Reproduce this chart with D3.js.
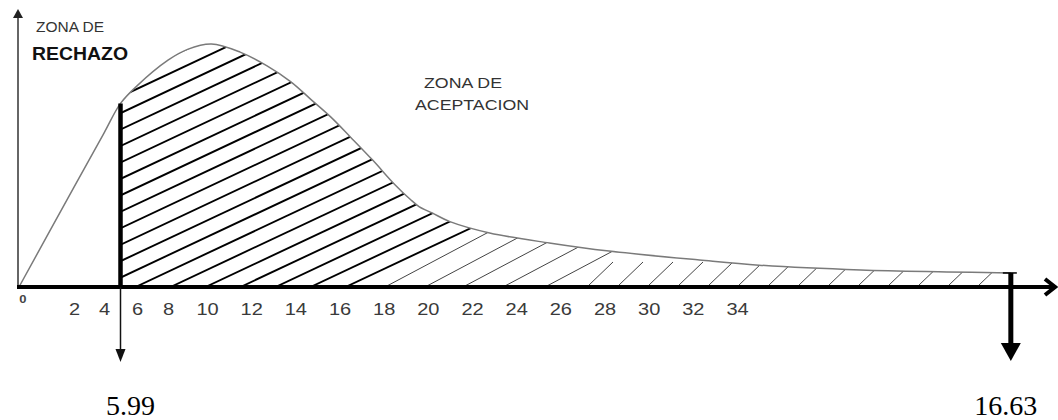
<!DOCTYPE html>
<html lang="es">
<head>
<meta charset="UTF-8">
<title>Zona de rechazo / aceptacion</title>
<script src="https://d3js.org/d3.v7.min.js"></script>
<style>
  body { margin: 0; background: #fff; }
  svg { display: block; }
  text { font-family: "Liberation Sans", Arial, sans-serif; }
  .serif { font-family: "Liberation Serif", "Times New Roman", serif; }
</style>
</head>
<body>
<svg id="chart" width="1058" height="420"></svg>
<script>
// tick labels along the axis
const xTicks = [0, 2, 4, 6, 8, 10, 12, 14, 16, 18, 20, 22, 24, 26, 28, 30, 32, 34];

// curve (axis units, relative height 0-100)
const curveX = [0, 2, 4, 5, 6, 8, 9, 10.2, 11.5, 12.7, 13.8, 14.7, 15.6, 16.5, 17.5,
                18.5, 19.2, 19.6, 20.2, 21, 22.8, 25.5, 28.2, 32.3, 35, 39.6, 43.5, 46.4];
const curveY = [0, 37, 57, 68, 74.5, 84, 88, 90, 87, 82, 76, 69.5, 63, 55.5, 47,
                38, 32.5, 29.8, 27.4, 24.2, 20, 16.3, 13.3, 10, 8.1, 6.3, 5.6, 5.2];

// critical values: where they sit on the drawing and what they are labelled
const critPos = [5, 46.4];
const critLabels = ["5.99", "16.63"];

const svg = d3.select("#chart");

// hand drawn axis: first units are squeezed
const x = d3.scaleLinear()
  .domain([0, 2, 4, 6, 8, 10, 34])
  .range([19, 74, 104, 137, 168, 207, 737]);
const y = d3.scaleLinear().domain([0, 100]).range([287, 17]);

const pts = curveX.map((d, i) => [d, curveY[i]]);
const y0 = y(0);
const curve = d3.curveCatmullRom.alpha(0.5);

function stretch(sel, k) {
  sel.each(function () {
    const w = this.getComputedTextLength();
    d3.select(this).attr("textLength", w * k).attr("lengthAdjust", "spacingAndGlyphs");
  });
}

// clip: area under the curve, between the two critical values
const defs = svg.append("defs");
defs.append("clipPath").attr("id", "under")
  .append("path")
  .attr("d", d3.area().curve(curve)
    .x(d => x(d[0])).y0(y0).y1(d => y(d[1]))(pts));
defs.append("clipPath").attr("id", "band")
  .append("rect")
  .attr("x", x(critPos[0])).attr("y", 0)
  .attr("width", x(critPos[1]) - x(critPos[0])).attr("height", y0);

const hatch = svg.append("g").attr("clip-path", "url(#band)")
  .append("g").attr("clip-path", "url(#under)");

// heavy hatching under the hump
const x5 = x(critPos[0]);
d3.range(x5 - 440, 360, 35).forEach(xb => {
  hatch.append("line")
    .attr("x1", xb).attr("y1", y0)
    .attr("x2", xb + 600).attr("y2", y0 - 0.47 * 600)
    .attr("stroke", "#000").attr("stroke-width", 1.9);
});
// lighter hatching on the slope
[385, 425, 463, 503, 545].forEach(xb => {
  hatch.append("line")
    .attr("x1", xb).attr("y1", y0)
    .attr("x2", xb + 200).attr("y2", y0 - 0.53 * 200)
    .attr("stroke", "#444").attr("stroke-width", 1);
});
// short strokes in the tail
d3.range(588, 1000, 30).forEach(xb => {
  hatch.append("line")
    .attr("x1", xb).attr("y1", y0 - 1)
    .attr("x2", xb + 25).attr("y2", y0 - 25)
    .attr("stroke", "#444").attr("stroke-width", 1);
});

// the curve
svg.append("path")
  .attr("d", d3.line().curve(curve).x(d => x(d[0])).y(d => y(d[1]))(pts))
  .attr("fill", "none").attr("stroke", "#7a7a7a").attr("stroke-width", 1.5);

// y axis with arrow
svg.append("line")
  .attr("x1", x(0) - 1).attr("y1", y0).attr("x2", x(0) - 1).attr("y2", 16)
  .attr("stroke", "#333").attr("stroke-width", 1.5);
svg.append("path")
  .attr("d", `M${x(0) - 1},9 L${x(0) - 6},18 L${x(0) + 4},18 Z`)
  .attr("fill", "#222");

// x axis with open arrow head
svg.append("line")
  .attr("x1", x(0) - 2).attr("y1", y0).attr("x2", 1054).attr("y2", y0)
  .attr("stroke", "#000").attr("stroke-width", 4);
svg.append("path")
  .attr("d", `M1045,279 L1055,${y0} L1045,295`)
  .attr("fill", "none").attr("stroke", "#000").attr("stroke-width", 4)
  .attr("stroke-linejoin", "miter");

// tick labels
const axis = svg.append("g")
  .attr("transform", `translate(0,${y0})`)
  .call(d3.axisBottom(x).tickValues(xTicks.filter(d => d > 0)).tickSize(0).tickPadding(17));
axis.select(".domain").remove();
axis.selectAll("text")
  .attr("font-family", "Liberation Sans, Arial, sans-serif")
  .attr("font-size", 16).attr("fill", "#3a3a3a");
stretch(axis.selectAll("text"), 1.25);

const zero = svg.append("text")
  .attr("x", x(0) + 4).attr("y", 303)
  .attr("text-anchor", "middle")
  .attr("font-size", 10).attr("font-weight", "bold").attr("fill", "#444")
  .text(xTicks[0]);
stretch(zero, 1.3);

// left critical line + arrow
const xl = x(critPos[0]);
svg.append("line")
  .attr("x1", xl).attr("y1", y(curveY[curveX.indexOf(critPos[0])]))
  .attr("x2", xl).attr("y2", y0)
  .attr("stroke", "#000").attr("stroke-width", 4.5);
svg.append("line")
  .attr("x1", xl).attr("y1", y0).attr("x2", xl).attr("y2", 352)
  .attr("stroke", "#111").attr("stroke-width", 1.5);
svg.append("path")
  .attr("d", `M${xl - 5},349 L${xl + 5},349 L${xl},362 Z`).attr("fill", "#111");

// right critical line + arrow
const xr = x(critPos[1]);
const yr = y(curveY[curveY.length - 1]);
svg.append("line")
  .attr("x1", xr - 8).attr("y1", yr).attr("x2", xr + 6).attr("y2", yr)
  .attr("stroke", "#000").attr("stroke-width", 1.5);
svg.append("line")
  .attr("x1", xr).attr("y1", yr).attr("x2", xr).attr("y2", 346)
  .attr("stroke", "#000").attr("stroke-width", 5);
svg.append("path")
  .attr("d", `M${xr - 10},343 L${xr + 10},343 L${xr},361 Z`).attr("fill", "#000");

// critical value labels
svg.selectAll(".crit")
  .data(critPos)
  .join("text")
  .attr("class", "crit serif")
  .attr("x", d => x(d) + (d === critPos[0] ? 10 : -5))
  .attr("y", 415)
  .attr("text-anchor", "middle")
  .attr("font-size", 28)
  .attr("fill", "#000")
  .text((d, i) => critLabels[i]);

// zone captions
svg.append("text").attr("x", 36).attr("y", 32)
  .attr("font-size", 14).attr("fill", "#333").text("ZONA DE")
  .attr("textLength", 68).attr("lengthAdjust", "spacingAndGlyphs");
svg.append("text").attr("x", 32).attr("y", 60)
  .attr("font-size", 18).attr("font-weight", "bold").attr("fill", "#111").text("RECHAZO")
  .attr("textLength", 96).attr("lengthAdjust", "spacingAndGlyphs");
svg.append("text").attr("x", 424).attr("y", 88)
  .attr("font-size", 14).attr("fill", "#333").text("ZONA DE")
  .attr("textLength", 78).attr("lengthAdjust", "spacingAndGlyphs");
svg.append("text").attr("x", 415).attr("y", 110)
  .attr("font-size", 14).attr("fill", "#333").text("ACEPTACION")
  .attr("textLength", 114).attr("lengthAdjust", "spacingAndGlyphs");
</script>
</body>
</html>
